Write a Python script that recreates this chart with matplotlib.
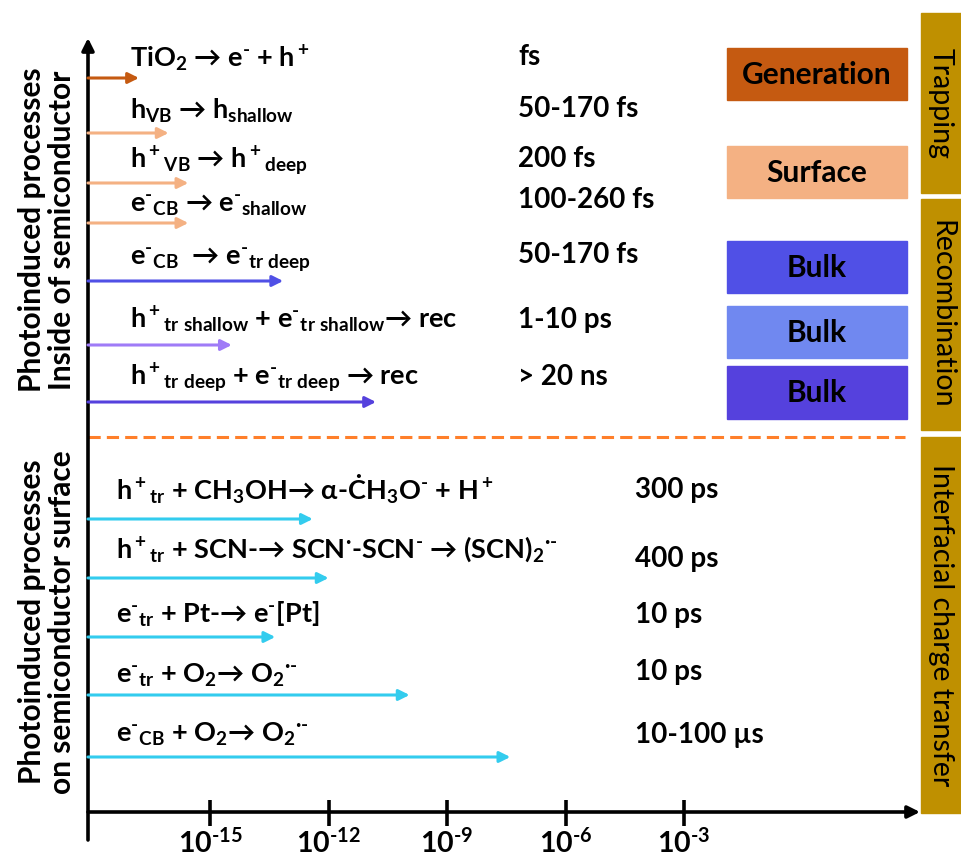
import matplotlib.pyplot as plt
from matplotlib.patches import Rectangle

plt.rcParams["font.family"] = ["Lato", "DejaVu Sans"]
plt.rcParams["font.weight"] = "bold"
plt.rcParams["mathtext.fontset"] = "custom"
plt.rcParams["mathtext.rm"] = "Lato:bold"
plt.rcParams["mathtext.it"] = "Lato:bold"
plt.rcParams["mathtext.bf"] = "Lato:bold"
plt.rcParams["mathtext.fallback"] = "stixsans"

M = r"\text{-}"  # short superscript minus

# processes inside the semiconductor
inner_labels = [
    r"TiO$_2$ → e$^{%s}$ + h$^+$" % M,
    r"h$_{VB}$ → h$_{shallow}$",
    r"h$^+{}_{VB}$ → h$^+{}_{deep}$",
    r"e$^{%s}{}_{CB}$ → e$^{%s}{}_{shallow}$" % (M, M),
    r"e$^{%s}{}_{CB}$  → e$^{%s}{}_{tr\ deep}$" % (M, M),
    r"h$^+{}_{tr\ shallow}$ + e$^{%s}{}_{tr\ shallow}$→ rec" % M,
    r"h$^+{}_{tr\ deep}$ + e$^{%s}{}_{tr\ deep}$ → rec" % M,
]
inner_times = ["fs", "50-170 fs", "200 fs", "100-260 fs", "50-170 fs", "1-10 ps", "> 20 ns"]
inner_log_t = [-16.8, -16.05, -15.55, -15.55, -13.15, -14.45, -10.8]

# processes on the surface
surface_labels = [
    r"h$^+{}_{tr}$ + CH$_3$OH→ α-ĊH$_3$O$^{%s}$ + H$^+$" % M,
    r"h$^+{}_{tr}$ + SCN-→ SCN$^{\bullet}$-SCN$^{%s}$ → (SCN)$_2{}^{\bullet %s}$" % (M, M),
    r"e$^{%s}{}_{tr}$ + Pt-→ e$^{%s}$[Pt]" % (M, M),
    r"e$^{%s}{}_{tr}$ + O$_2$→ O$_2{}^{\bullet %s}$" % (M, M),
    r"e$^{%s}{}_{CB}$ + O$_2$→ O$_2{}^{\bullet %s}$" % (M, M),
]
surface_times = ["300 ps", "400 ps", "10 ps", "10 ps", "10-100 µs"]
surface_log_t = [-12.4, -12.0, -13.35, -9.95, -7.4]

tick_exps = [-15, -12, -9, -6, -3]
box_labels = ["Generation", "Surface", "Bulk", "Bulk", "Bulk"]
side_labels = ["Trapping", "Recombination", "Interfacial charge transfer"]

# layout (pixel rows, top-down)
inner_rows = [78, 133, 183, 223, 281, 345, 402]
inner_text_y = [67, 119, 168, 212, 265, 328, 385]
inner_time_y = [65, 117, 167, 208, 263, 328, 385]
surface_rows = [519, 578, 637, 695, 757]
surface_text_y = [500, 558, 623, 683, 742]
surface_time_y = [498, 567, 623, 680, 743]

inner_colors = ["#C55A11", "#F4B183", "#F4B183", "#F4B183", "#5050E6", "#9F7BF7", "#5541DD"]
cyan = "#33CCEE"
box_colors = ["#C55A11", "#F4B183", "#5050E6", "#7088F0", "#5541DD"]
box_rows = [(48, 100), (146, 198), (241, 293), (306, 358), (366, 419)]
side_rows = [(13, 193), (199, 430), (437, 813)]
gold = "#BF9000"

fig = plt.figure(figsize=(9.61, 8.59), dpi=100)
xmin, xmax = 10 ** -18.09, 10 ** 2.97
ax = fig.add_axes([88 / 961, 0, 832 / 961, 1])
ax.set_xscale("log")
ax.set_xlim(xmin, xmax)
ax.set_ylim(859, 0)
ax.axis("off")

# overlay in pixel units for boxes and labels
ov = fig.add_axes([0, 0, 1, 1], zorder=-1)
ov.set_xlim(0, 961)
ov.set_ylim(859, 0)
ov.axis("off")


def arrow(y, x_end, color):
    ax.annotate("", xy=(10 ** x_end, y), xytext=(xmin, y), annotation_clip=False,
                arrowprops=dict(arrowstyle="-|>", color=color, lw=2.2,
                                mutation_scale=16, shrinkA=0, shrinkB=0))


# axes with arrow heads
ax.annotate("", xy=(xmax, 812), xytext=(xmin, 812), annotation_clip=False,
            arrowprops=dict(arrowstyle="-|>", color="black", lw=2.6,
                            mutation_scale=18, shrinkA=0, shrinkB=0))
ax.annotate("", xy=(xmin, 38), xytext=(xmin, 840), annotation_clip=False,
            arrowprops=dict(arrowstyle="-|>", color="black", lw=2.6,
                            mutation_scale=18, shrinkA=0, shrinkB=0))
for e in tick_exps:
    ax.vlines(10 ** e, 800, 826, color="black", lw=2.6)
    ax.text(10 ** e, 853, r"10$^{\text{-}%d}$" % abs(e), ha="center", va="baseline",
            fontsize=20.5)

for lt, y, c in zip(inner_log_t, inner_rows, inner_colors):
    arrow(y, lt, c)
for lt, y in zip(surface_log_t, surface_rows):
    arrow(y, lt, cyan)

for s, y in zip(inner_labels, inner_text_y):
    ov.text(130, y, s, fontsize=19.5, va="baseline")
for s, y in zip(inner_times, inner_time_y):
    ov.text(518, y, s, fontsize=20, va="baseline")
for s, y in zip(surface_labels, surface_text_y):
    ov.text(116, y, s, fontsize=19.5, va="baseline")
for s, y in zip(surface_times, surface_time_y):
    ov.text(635, y, s, fontsize=20, va="baseline")

# separator
ov.plot([88, 905], [437, 437], color="#FF7F2A", lw=2.2, dashes=(4, 2))

# category boxes
for s, (y0, y1), c in zip(box_labels, box_rows, box_colors):
    ov.add_patch(Rectangle((727, y0), 180, y1 - y0, color=c))
    ov.text(817, (y0 + y1) / 2 + 1, s, ha="center", va="center", fontsize=21.5)

for s, (y0, y1) in zip(side_labels, side_rows):
    ov.add_patch(Rectangle((921, y0), 40, y1 - y0, color=gold))
    ov.text(941, (y0 + y1) / 2, s, ha="center", va="center", rotation=-90,
            fontsize=20.5, fontweight="normal")

ov.text(47, 230, "Photoinduced processes\nInside of semiconductor", rotation=90,
        ha="center", va="center", fontsize=21.5, linespacing=1.1)
ov.text(47, 622, "Photoinduced processes\non semiconductor surface", rotation=90,
        ha="center", va="center", fontsize=21.5, linespacing=1.1)

fig.savefig("out.png", dpi=100)
